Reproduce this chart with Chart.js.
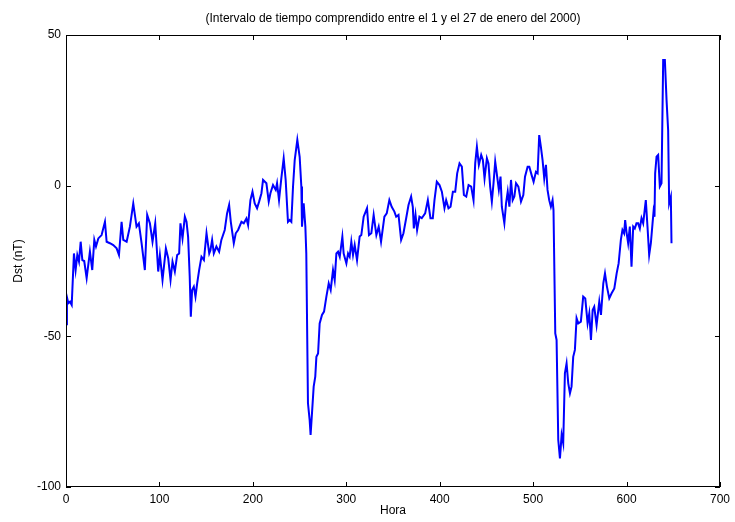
<!DOCTYPE html>
<html>
<head>
<meta charset="utf-8">
<script src="https://cdn.jsdelivr.net/npm/chart.js@4"></script>
<style>
  body { margin: 0; background: #fff; }
  #wrap { width: 735px; height: 522px; }
</style>
</head>
<body>
<div id="wrap"><canvas id="dstChart"></canvas></div>
<script>
// Dst index, 1-27 Jan 2000
const hours = [
  0, 1, 2.5, 4.3, 6.1, 8.5, 10.3, 12.1, 13.9, 15.7, 17.5, 19.5, 22.1, 25.6, 28.1, 30.3, 32.1, 34.6, 38.1, 41.7,
  43.5, 47, 50.6, 54.2, 56.7, 59.5, 61.3, 64.9, 68.4, 72, 75.5, 78, 80.9, 84.4, 86.9, 89.8, 92.6, 95.5, 98.7, 100.5,
  103.3, 106.9, 109.4, 111.9, 114, 116.5, 119, 121.1, 122.5, 124.7, 127.2, 129, 130.7, 132.4, 133.6, 135, 136.8, 138.6, 140.4, 142.5,
  145, 147.6, 150.4, 153.3, 154.6, 156.4, 158.2, 161, 163.9, 166.3, 169.9, 172.4, 174.6, 176.4, 179.6, 181.7, 184.2, 187.8, 190.3, 193.1,
  194.9, 197.4, 199.6, 202, 204.5, 206.7, 209.2, 210.9, 214.5, 217, 218.8, 221.6, 224.5, 225.9, 228, 230.5, 233, 235.1, 237.6, 239.4,
  241.2, 243, 244.8, 247.6, 250.1, 251.9, 252.6, 254.4, 256.2, 257.2, 259, 260.8, 261.8, 263.3, 265.1, 266.8, 268, 269.8, 271.5, 274,
  276.2, 278.7, 281.2, 283.3, 285.8, 287.6, 289.4, 291.2, 293, 295.8, 297.2, 300.1, 301.9, 303.6, 305.4, 307.2, 309, 311.5, 314.3, 316.1,
  318.6, 322.2, 324.3, 326.8, 329.3, 332.2, 334.7, 337.2, 340.8, 343.3, 346.1, 348.6, 351.5, 353.4, 355.9, 358.7, 361.2, 364.1, 366.6, 369.4,
  371.2, 372.3, 374.1, 375.8, 378.3, 380.8, 384.4, 387.3, 390.1, 392.6, 394.4, 396.9, 399.8, 402.3, 405.1, 406.9, 409.4, 411.6, 414.1, 416.6,
  418.7, 421.2, 423.7, 425.9, 428.4, 430.9, 433.7, 436.2, 438, 439.8, 441.9, 444.4, 446.2, 448, 450.5, 452.2, 454, 455.8, 457.6, 459.4,
  461.5, 463.3, 465.1, 466.5, 469.2, 471, 472.8, 474.6, 476.3, 478.1, 479.9, 481.7, 484.2, 487, 489.5, 491.3, 494.1, 495.9, 498.4, 500.5,
  503, 504.8, 506.5, 508.3, 510.1, 511.9, 513.7, 515.4, 517.2, 519, 520.8, 521.8, 523.7, 525.1, 526.9, 528.7, 530.5, 532.2, 534, 535.8,
  537.6, 539.4, 541.1, 542.9, 544.7, 546.5, 548.3, 551.1, 553.6, 555.8, 558.3, 560.1, 561.9, 563.7, 565.4, 567.9, 570.8, 572.6, 575.1, 576.9,
  579, 581.5, 584, 586.9, 589.4, 591.5, 593.9, 595.6, 597.4, 598.5, 599.9, 601.7, 603.5, 605.3, 607.1, 608.8, 610.6, 612.4, 614.2, 616,
  617.8, 620.6, 622.4, 624.2, 626, 627.8, 628.9, 629.9, 630.6, 632.1, 633.8, 635.6, 637.4, 639.2, 641, 642.8, 644.5, 645.6, 647.4, 648.1
];
const dst = [
  -46, -37, -39, -38.5, -39.6, -22.5, -28, -23, -25.2, -18.6, -24.7, -25, -30.7, -21.9, -28, -18, -20.2, -17.5, -16.4, -12,
  -18.6, -19.1, -19.7, -20.8, -23, -12, -18, -18.6, -13.6, -5.9, -13.6, -12.5, -19.1, -28, -9.7, -12.5, -18.6, -12.5, -28.5, -23,
  -31.3, -20.8, -24.1, -31.3, -25.2, -28.5, -23, -22.5, -12.5, -17.5, -10.3, -12, -17, -30, -43.5, -34.6, -33.5, -36.8, -32.4, -28,
  -23.6, -24.7, -15.8, -22.5, -21.4, -18, -22.5, -20.2, -21.9, -18, -14.7, -9.2, -6.4, -12, -19.1, -15.8, -14.7, -12, -12.5, -10.9,
  -13.1, -4.8, -2, -5.9, -7.5, -5.3, -2.5, 1.9, 0.8, -5.3, -2.5, 0.2, -1.4, 0.8, -4.8, 2.5, 9.1, 2, -12, -11.4,
  -12, -0.3, 8.5, 15.2, 9.6, -0.3, -13.6, -5.9, -13.6, -22.5, -72.2, -77.8, -82.7, -75.5, -66.7, -63.4, -56.8, -55.7, -45.7, -42.9,
  -41.8, -36.8, -32.4, -34.6, -28, -31.3, -22.5, -21.9, -23.6, -16.9, -22.5, -25.8, -22.5, -23.6, -18.6, -23, -19.7, -24.7, -16.9, -16.4,
  -10.3, -7.5, -16.4, -15.8, -9.7, -16.4, -13.6, -18.6, -10.3, -9.2, -4.8, -7, -8.6, -10.3, -9.7, -18, -15.8, -10.8, -6.4, -3.6,
  -7, -14.2, -9.7, -14.7, -10.3, -10.8, -9.2, -4.8, -10.8, -10.8, -4.8, 1.3, 0.2, -2, -7.5, -4.8, -7.5, -7, -2, -2,
  4.1, 7.4, 6.3, -3.1, -3.6, 0.2, -0.3, -4.8, 7.4, 12.9, 6.9, 10.2, 8.5, 2.4, 9.1, 7.4, -0.3, -5.3, 0.8, 8,
  3, -1.4, 3, -7, -12.5, -5.9, -2, -7, 1.9, -4.8, -3.6, 0.8, -0.3, -5.3, -3.1, 3, 6.3, 6.3, 3.5, 1.3,
  4.6, 4.1, 16.8, 12.9, 8.5, 2.4, 6.9, -1.4, -4.8, -7, -4.8, -8.1, -49, -51.2, -84.4, -90.5, -82.7, -85.5, -62.3, -59,
  -65.6, -68.9, -66.7, -56.8, -54.5, -44, -45.7, -45.1, -36.8, -37.4, -45.7, -42.4, -51.2, -41.3, -40.2, -46.3, -38.5, -42.9, -32.4, -29.1,
  -33.5, -37.4, -35.7, -34.1, -29.1, -25.8, -18, -14.7, -15.8, -11.4, -15.3, -19.1, -13.6, -26.9, -13.6, -14.2, -12.5, -12.5, -14.2, -10.8,
  -12.5, -4.8, -13.6, -23, -19.1, -12.5, -8.6, -10.3, 4.1, 9.6, 10.2, -0.3, 0.8, 41.7, 41.7, 28.4, 18.5, -5.9, -3.7, -19.1
];
const xTicks = [0, 100, 200, 300, 400, 500, 600, 700];
const yTicks = [-100, -50, 0, 50];
const titleText = "(Intervalo de tiempo comprendido entre el 1 y el 27 de enero del 2000)";

const fontFamily = "'Liberation Sans', Arial, sans-serif";

// MATLAB-like box with inward ticks on all four sides, plus the title
const boxPlugin = {
  id: "box",
  afterDraw(chart) {
    const { ctx, chartArea: a, scales } = chart;
    const tl = 5;
    ctx.save();
    ctx.strokeStyle = "#000";
    ctx.lineWidth = 1;
    ctx.strokeRect(a.left + 0.5, a.top + 0.5, a.right - a.left - 1, a.bottom - a.top - 1);
    ctx.beginPath();
    xTicks.forEach(v => {
      const px = Math.round(scales.x.getPixelForValue(v)) + 0.5;
      ctx.moveTo(px, a.bottom); ctx.lineTo(px, a.bottom - tl);
      ctx.moveTo(px, a.top); ctx.lineTo(px, a.top + tl);
    });
    yTicks.forEach(v => {
      const py = Math.round(scales.y.getPixelForValue(v)) + 0.5;
      ctx.moveTo(a.left, py); ctx.lineTo(a.left + tl, py);
      ctx.moveTo(a.right, py); ctx.lineTo(a.right - tl, py);
    });
    ctx.stroke();
    ctx.fillStyle = "#000";
    ctx.font = "12px " + fontFamily;
    ctx.textAlign = "center";
    ctx.textBaseline = "middle";
    ctx.fillText(titleText, (a.left + a.right) / 2, 19);
    ctx.restore();
  }
};

const ctx = document.getElementById("dstChart").getContext("2d");

const data = {
  datasets: [
    {
      label: "Dst",
      data: hours.map((h, i) => ({ x: h, y: dst[i] })),
      borderColor: "rgb(0, 0, 255)",
      borderWidth: 2,
      pointRadius: 0,
      tension: 0,
      fill: false,
    },
  ],
};

const config = {
  type: "line",
  data: data,
  options: {
    responsive: true,
    maintainAspectRatio: false,
    animation: false,
    layout: { padding: { top: 35, right: 14, left: 0, bottom: 0 } },
    scales: {
      x: {
        type: "linear",
        min: 0,
        max: 700,
        afterBuildTicks: s => { s.ticks = xTicks.map(v => ({ value: v })); },
        afterFit: s => { s.height = 35; },
        ticks: { color: "#000", font: { family: fontFamily, size: 12 }, padding: 5, maxRotation: 0 },
        grid: { display: false, drawTicks: false },
        border: { display: false },
        title: {
          display: true,
          text: "Hora",
          color: "#000",
          font: { family: fontFamily, size: 12 },
          padding: { top: 0, bottom: 4 },
        },
      },
      y: {
        min: -100,
        max: 50,
        afterBuildTicks: s => { s.ticks = yTicks.map(v => ({ value: v })); },
        afterFit: s => { s.width = 66; },
        ticks: { color: "#000", font: { family: fontFamily, size: 12 }, padding: 5 },
        grid: { display: false, drawTicks: false },
        border: { display: false },
        title: {
          display: true,
          text: "Dst (nT)",
          color: "#000",
          font: { family: fontFamily, size: 12 },
          padding: { top: 11, bottom: 0 },
        },
      },
    },
    plugins: {
      legend: { display: false },
      tooltip: { enabled: false },
    },
  },
  plugins: [boxPlugin],
};

const dstLineChart = new Chart(ctx, config);
</script>
</body>
</html>
